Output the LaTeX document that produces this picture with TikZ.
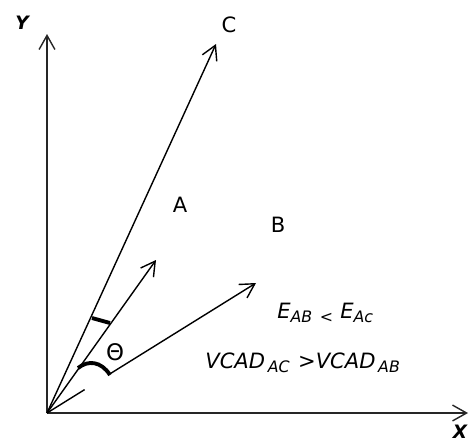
\documentclass[tikz,border=0pt]{standalone}
\usepackage{fontspec}
\setmainfont{DejaVu Sans}
\usetikzlibrary{arrows.meta,calc}
\newcommand{\sbs}[1]{\raisebox{-0.35ex}{\fontsize{9}{10}\selectfont #1}}
\begin{document}
\begin{tikzpicture}[x=0.02cm,y=-0.02cm,
  tip/.style={-{Straight Barb[length=8pt,width=9pt,line width=0.8pt]}},
  vec/.style={line width=0.8pt,tip},
  axisline/.style={line width=1.3pt,black!85,tip},
  anglemark/.style={line width=2.2pt,line cap=butt},
  lbl/.style={inner sep=0pt,font=\fontsize{12}{14}\selectfont},
  axlbl/.style={inner sep=0pt,font=\fontsize{10.5}{12}\selectfont\bfseries\itshape},
  eqn/.style={inner sep=0pt,anchor=base west,font=\fontsize{12}{14}\selectfont\itshape}]
\useasboundingbox (0,0) rectangle (469,443);
\coordinate (O) at (47,413);
\coordinate (Ytip) at (47,34);
\coordinate (Xtip) at (468,413);
\coordinate (Ctip) at (216,44);
\coordinate (Atip) at (156,260);
\coordinate (Btip) at (256,283);
% axes
\draw[axisline] (O) -- (Ytip);
\draw[axisline] (O) -- (Xtip);
% vectors
\draw[vec] (O) -- (Ctip);
\draw[vec] (O) -- (Atip);
\draw[line width=0.8pt] (O) -- ($(O)!0.18!(Btip)$);
\draw[vec] ($(O)!0.3!(Btip)$) -- (Btip);
% angle marks
\draw[anglemark] (92,318) -- (110,323);
\draw[anglemark] (78,368) .. controls (88,360) and (101,361) .. (110,375);
% labels
\node[axlbl] (Y) at (22,23) {Y};
\node[axlbl] (X) at (460,432) {X};
\node[lbl] (C) at (229,25) {C};
\node[lbl] (A) at (180,205) {A};
\node[lbl] (B) at (278,225) {B};
\node[lbl,font=\fontsize{13}{15}\selectfont] (theta) at (115,352) {Θ};
\node[eqn] (e1) at (277,318) {E\sbs{AB\, <}\,\,E\sbs{Ac}};
\node[eqn] (e2) at (205,368) {VCAD\sbs{\,AC} \kern1pt>VCAD\sbs{\,AB}};
\end{tikzpicture}
\end{document}
